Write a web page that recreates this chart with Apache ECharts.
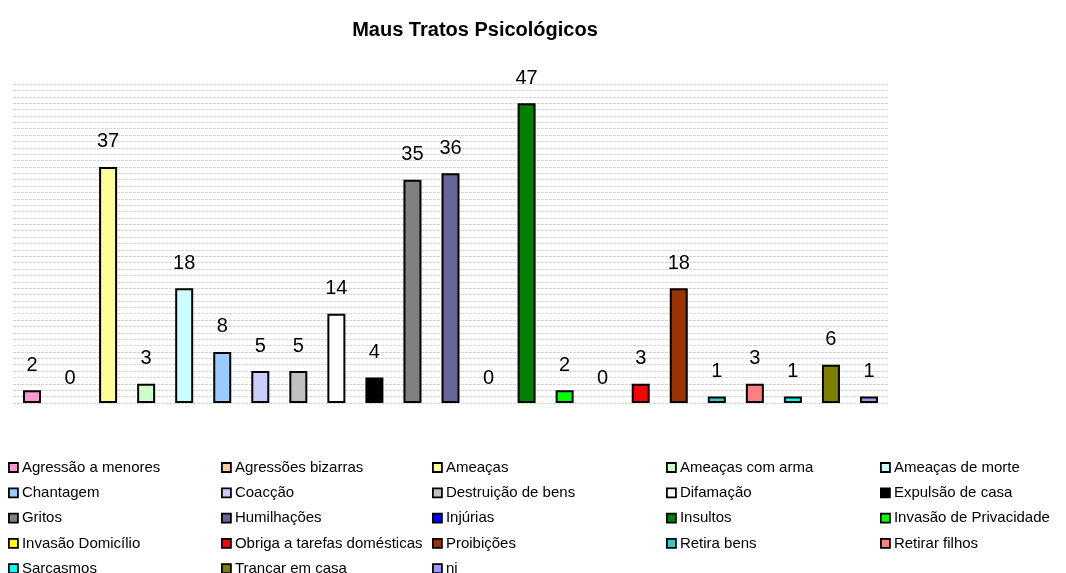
<!DOCTYPE html>
<html>
<head>
<meta charset="utf-8">
<script src="https://cdn.jsdelivr.net/npm/echarts@6/dist/echarts.min.js"></script>
<style>
  html, body { margin: 0; padding: 0; background: #fff; }
  #chart { width: 1066px; height: 573px; }
</style>
</head>
<body>
<div id="chart"></div>
<script>
// categorias (cada uma é uma série, como no Excel)
var categories = [
  'Agressão a menores', 'Agressões bizarras', 'Ameaças', 'Ameaças com arma', 'Ameaças de morte',
  'Chantagem', 'Coacção', 'Destruição de bens', 'Difamação', 'Expulsão de casa',
  'Gritos', 'Humilhações', 'Injúrias', 'Insultos', 'Invasão de Privacidade',
  'Invasão Domicílio', 'Obriga a tarefas domésticas', 'Proibições', 'Retira bens', 'Retirar filhos',
  'Sarcasmos', 'Trancar em casa', 'ni'
]
var values = [2, 0, 37, 3, 18, 8, 5, 5, 14, 4, 35, 36, 0, 47, 2, 0, 3, 18, 1, 3, 1, 6, 1]
var colors = [
  '#FF99CC', '#FFCC99', '#FFFF99', '#CCFFCC', '#CCFFFF',
  '#99CCFF', '#CCCCFF', '#C0C0C0', '#FFFFFF', '#000000',
  '#808080', '#666699', '#0000FF', '#008000', '#00FF00',
  '#FFFF00', '#FF0000', '#993300', '#33CCCC', '#FF8080',
  '#00FFFF', '#808000', '#9999FF'
]
var legendCols = [8, 221, 432, 666, 880]
var font = '"Liberation Sans", Arial, sans-serif'

var chart = echarts.init(document.getElementById('chart'))

var series = categories.map(function (name, i) {
  var data = categories.map(function (c, j) {
    if (j !== i) return '-'
    // barra com valor 0 não tem contorno
    return values[i] === 0 ? { value: 0, itemStyle: { borderWidth: 0 } } : values[i]
  })
  return {
    name: name,
    type: 'bar',
    data: data,
    barWidth: 18,
    barGap: '-100%',
    itemStyle: { color: colors[i], borderColor: '#000', borderWidth: 2 },
    label: {
      show: true,
      position: 'top',
      distance: 15,
      color: '#000',
      fontFamily: font,
      fontSize: 20
    },
    emphasis: { disabled: true }
  }
})

// 5 colunas de legenda
var legends = legendCols.map(function (x, c) {
  var names = categories.filter(function (n, i) { return i % 5 === c })
  return {
    orient: 'vertical',
    left: x,
    top: 460,
    height: 130,
    padding: 0,
    itemWidth: 9,
    itemHeight: 9,
    itemGap: 10.3,
    icon: 'rect',
    selectedMode: false,
    data: names,
    itemStyle: { borderColor: '#000', borderWidth: 1.8 },
    textStyle: { fontFamily: font, fontSize: 15, color: '#000', padding: [0, 0, 0, -1] }
  }
})

var option = {
  animation: false,
  backgroundColor: '#fff',
  title: {
    text: 'Maus Tratos Psicológicos',
    left: 470,
    top: 15,
    textAlign: 'center',
    textStyle: { fontFamily: font, fontSize: 20, fontWeight: 'bold', color: '#000' }
  },
  legend: legends,
  grid: { left: 13, right: 178, top: 84, bottom: 170 },
  xAxis: {
    type: 'category',
    data: categories,
    axisLine: { show: false },
    axisTick: { show: false },
    axisLabel: { show: false }
  },
  yAxis: {
    type: 'value',
    min: 0,
    max: 50,
    interval: 1,
    axisLine: { show: false },
    axisTick: { show: false },
    axisLabel: { show: false },
    splitLine: { lineStyle: { color: '#d6d6d6', type: [3, 1], width: 1 } }
  },
  series: series
}
chart.setOption(option)
</script>
</body>
</html>
